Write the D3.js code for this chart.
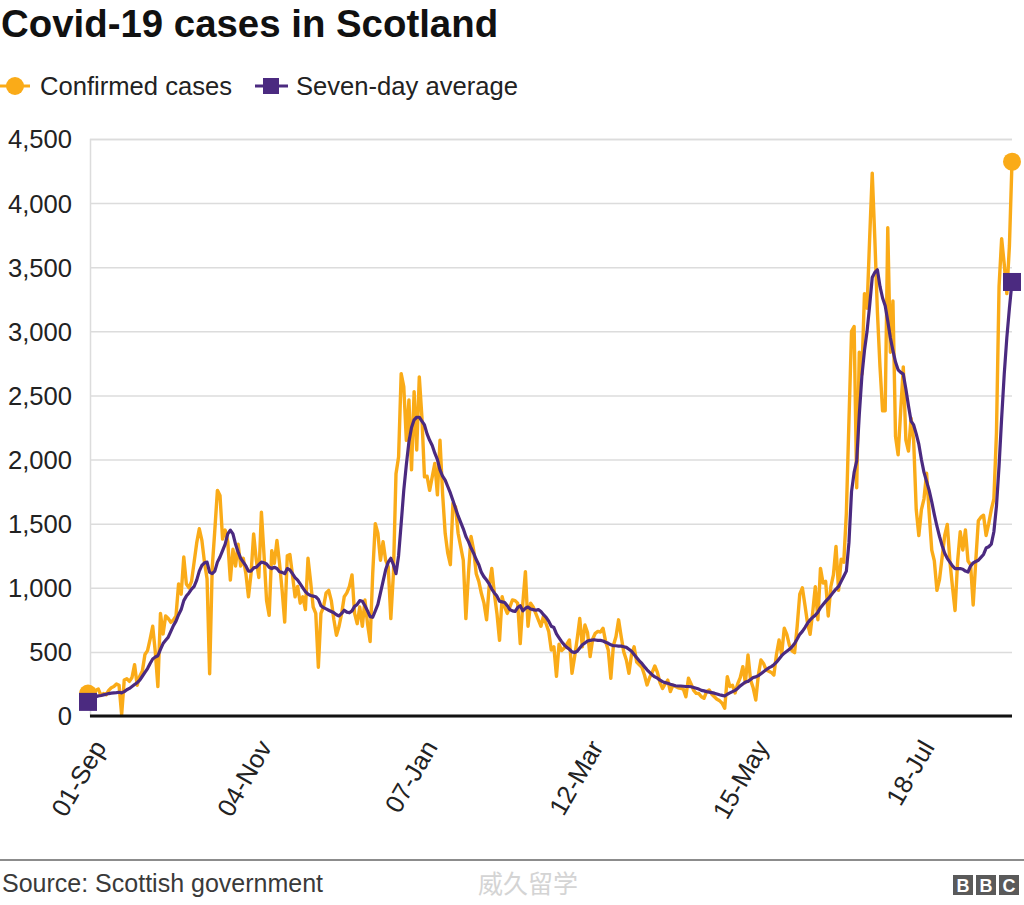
<!DOCTYPE html>
<html><head><meta charset="utf-8">
<script src="https://cdn.jsdelivr.net/npm/d3@7"></script>
<style>body{margin:0;background:#fff} svg{display:block}</style>
</head><body>
<svg id="chart" width="1024" height="905"></svg>
<script>
const startDate = "2020-09-01";
const confirmed = [
175,180,150,200,210,160,175,165,200,220,
230,250,240,10,280,290,270,300,400,240,
310,350,480,510,600,700,500,230,800,640,
780,760,730,750,780,1030,950,1240,1030,1000,
1050,1200,1350,1460,1370,1200,1070,330,1160,1450,
1760,1720,1380,1450,1360,1060,1300,1170,1340,1170,
1230,1110,930,1110,1420,1220,1080,1590,1260,900,
785,1290,1190,1370,1190,980,733,1250,1260,1100,
930,1010,880,930,830,1230,1050,850,800,380,
800,850,960,980,900,750,630,700,800,930,
960,1010,1100,800,720,850,700,905,720,580,
1110,1500,1425,1215,1360,1215,1165,760,1110,1890,
2020,2670,2570,2150,2465,1920,2530,2075,2645,2335,
1865,1870,1760,1865,1970,1725,2150,1735,1425,1270,
1180,1660,1630,1425,1320,1215,760,1110,1400,1295,
1110,1050,955,880,750,1010,1150,955,800,590,
930,850,800,850,905,900,880,565,880,1125,
700,880,850,800,750,700,780,720,660,515,
540,310,560,510,530,560,593,333,460,600,
760,540,710,650,463,600,645,660,655,684,
580,515,294,550,620,750,620,500,437,333,
480,540,420,400,380,320,242,300,340,390,
340,260,215,250,280,190,240,230,220,215,
210,150,294,250,200,177,175,150,138,190,
203,170,150,130,120,100,60,307,230,240,
180,250,300,385,260,476,280,220,125,320,
437,410,360,350,340,320,480,593,480,684,
637,551,508,494,700,950,1000,866,723,637,
808,1008,751,1151,1037,1050,780,1008,1100,1323,
980,1223,1200,1580,2300,3000,3037,1780,2837,2666,
3294,3180,3723,4234,3723,3151,2723,2380,2380,3808,
2837,3237,2180,2037,2380,2723,2151,2066,2323,2151,
1609,1408,1609,1694,1894,1580,1294,1209,980,1066,
1237,1408,1494,1209,1008,823,1209,1437,1294,1451,
1209,1180,866,1209,1523,1551,1566,1408,1500,1609,
1694,2208,3351,3723,3523,3294,3666,4323
];
const average = [
110,125,140,150,157,160,165,170,175,178,
180,182,185,180,190,205,215,230,245,260,
280,310,340,370,410,445,460,470,520,565,
590,615,660,705,740,790,830,900,935,960,
990,1010,1060,1130,1175,1195,1200,1120,1110,1130,
1200,1240,1290,1340,1420,1450,1420,1340,1280,1230,
1200,1170,1130,1130,1155,1160,1180,1200,1195,1185,
1160,1150,1160,1150,1125,1120,1110,1150,1140,1110,
1080,1060,1030,1000,970,950,940,935,930,910,
860,845,835,825,815,805,790,780,800,825,
810,805,820,855,870,900,895,860,820,775,
770,820,870,960,1050,1140,1200,1230,1180,1110,
1250,1500,1760,1960,2140,2250,2310,2330,2330,2300,
2270,2200,2150,2110,2050,2000,1920,1870,1840,1790,
1740,1680,1620,1560,1510,1460,1400,1360,1310,1270,
1220,1180,1120,1085,1060,1030,990,960,935,895,
890,885,860,830,820,815,845,860,820,840,
850,835,830,825,830,815,790,770,740,700,
690,640,610,580,555,535,520,500,495,505,
530,555,570,585,590,593,593,590,590,585,
575,567,555,548,548,545,545,540,535,520,
505,480,455,430,410,385,360,340,320,305,
295,280,268,260,255,248,242,236,234,234,
232,230,230,228,222,216,210,200,196,190,
186,182,178,172,166,161,156,170,180,190,
200,215,235,250,265,270,285,300,305,315,
330,345,360,375,385,400,420,445,470,490,
505,520,540,565,600,637,660,690,723,750,
770,785,810,845,870,894,915,940,966,990,
1010,1050,1090,1130,1350,1750,1900,1990,2350,2650,
2850,3000,3200,3420,3460,3480,3350,3260,3200,3080,
2950,2850,2760,2700,2680,2666,2550,2420,2300,2270,
2200,2120,2000,1900,1830,1760,1670,1570,1480,1400,
1330,1270,1230,1200,1170,1150,1150,1150,1145,1130,
1123,1170,1194,1205,1215,1237,1260,1310,1320,1340,
1437,1637,1951,2323,2666,2950,3180,3385
];
const tickDates = ["2020-09-01","2020-11-04","2021-01-07","2021-03-12","2021-05-15","2021-07-18"];
const tickLabels = ["01-Sep","04-Nov","07-Jan","12-Mar","15-May","18-Jul"];
const yTicks = [0,500,1000,1500,2000,2500,3000,3500,4000,4500];
const seriesNames = ["Confirmed cases","Seven-day average"];
const titleText = "Covid-19 cases in Scotland";
const sourceText = "Source: Scottish government";

const ORANGE = "#faab18", PURPLE = "#4b2a80";
const FONT = "'Liberation Sans', Arial, Helvetica, sans-serif";

const parse = d3.utcParse("%Y-%m-%d");
const t0 = parse(startDate);
const dates = confirmed.map((_, i) => d3.utcDay.offset(t0, i));

const svg = d3.select("#chart").style("font-family", FONT);
const x = d3.scaleUtc().domain([dates[0], dates[dates.length-1]]).range([88, 1012]);
const y = d3.scaleLinear().domain([0, 4500]).range([716, 139]);

// title
svg.append("text").attr("x", 1).attr("y", 37).attr("font-size", 38.4).attr("font-weight", "bold")
  .attr("fill", "#111").text(titleText);

// legend
const lg = svg.append("g");
lg.append("line").attr("x1", 0).attr("x2", 30).attr("y1", 86).attr("y2", 86).attr("stroke", ORANGE).attr("stroke-width", 3);
lg.append("circle").attr("cx", 15).attr("cy", 86).attr("r", 9).attr("fill", ORANGE);
lg.append("text").attr("x", 40).attr("y", 95).attr("font-size", 25.6).attr("fill", "#222").text(seriesNames[0]);
lg.append("line").attr("x1", 255).attr("x2", 288).attr("y1", 86).attr("y2", 86).attr("stroke", PURPLE).attr("stroke-width", 3);
lg.append("rect").attr("x", 263).attr("y", 78).attr("width", 16).attr("height", 16).attr("fill", PURPLE);
lg.append("text").attr("x", 296).attr("y", 95).attr("font-size", 25.6).attr("fill", "#222").text(seriesNames[1]);

// grid
const yAxis = d3.axisLeft(y).tickValues(yTicks).tickSize(-(1012 - 90)).tickFormat(d3.format(","));
const gy = svg.append("g").attr("transform", "translate(90,0)").call(yAxis);
gy.select(".domain").attr("stroke", "#dcdcdc").attr("stroke-width", 1.5);
gy.selectAll(".tick line").attr("stroke", "#dcdcdc").attr("stroke-width", 1.5);
gy.selectAll(".tick text").attr("x", -18).attr("dy", "0.35em").attr("font-size", 25.6)
  .attr("font-family", FONT).attr("fill", "#222");

// lines
const line = d3.line().x((d, i) => x(dates[i])).y(d => y(d)).curve(d3.curveLinear);
svg.append("path").datum(confirmed).attr("d", line).attr("fill", "none")
  .attr("stroke", ORANGE).attr("stroke-width", 3.4).attr("stroke-linejoin", "round");
svg.append("path").datum(average).attr("d", line).attr("fill", "none")
  .attr("stroke", PURPLE).attr("stroke-width", 3.2).attr("stroke-linejoin", "round");

// baseline
svg.append("line").attr("x1", 90).attr("x2", 1012).attr("y1", y(0)).attr("y2", y(0))
  .attr("stroke", "#111").attr("stroke-width", 3);

// end markers
const ends = [0, confirmed.length - 1];
svg.selectAll(".cm").data(ends).enter().append("circle")
  .attr("cx", i => x(dates[i])).attr("cy", i => y(confirmed[i])).attr("r", 9).attr("fill", ORANGE);
svg.selectAll(".am").data(ends).enter().append("rect")
  .attr("x", i => x(dates[i]) - 9).attr("y", i => y(average[i]) - 9)
  .attr("width", 18).attr("height", 18).attr("fill", PURPLE);

// x tick labels
const xt = svg.append("g");
tickDates.forEach((d, k) => {
  const px = x(parse(d));
  xt.append("text").attr("transform", `translate(${px + 19},747) rotate(-60)`)
    .attr("text-anchor", "end").attr("font-size", 25.6).attr("fill", "#222").text(tickLabels[k]);
});

// footer
svg.append("line").attr("x1", 0).attr("x2", 1024).attr("y1", 860).attr("y2", 860)
  .attr("stroke", "#8c8c8c").attr("stroke-width", 2);
svg.append("text").attr("x", 2).attr("y", 892).attr("font-size", 25).attr("fill", "#3a3a3a").text(sourceText);
svg.append("text").attr("x", 478).attr("y", 893).attr("font-size", 25)
  .attr("font-family", "'Noto Sans CJK SC', sans-serif").attr("fill", "#d4d4d4").text("威久留学");
const bbc = ["B", "B", "C"];
bbc.forEach((c, k) => {
  svg.append("rect").attr("x", 953 + k * 23).attr("y", 875).attr("width", 20).attr("height", 20).attr("fill", "#5a5a5a");
  svg.append("text").attr("x", 963 + k * 23).attr("y", 892).attr("text-anchor", "middle")
    .attr("font-size", 18).attr("font-weight", "bold").attr("fill", "#fff").text(c);
});
</script>
</body></html>
